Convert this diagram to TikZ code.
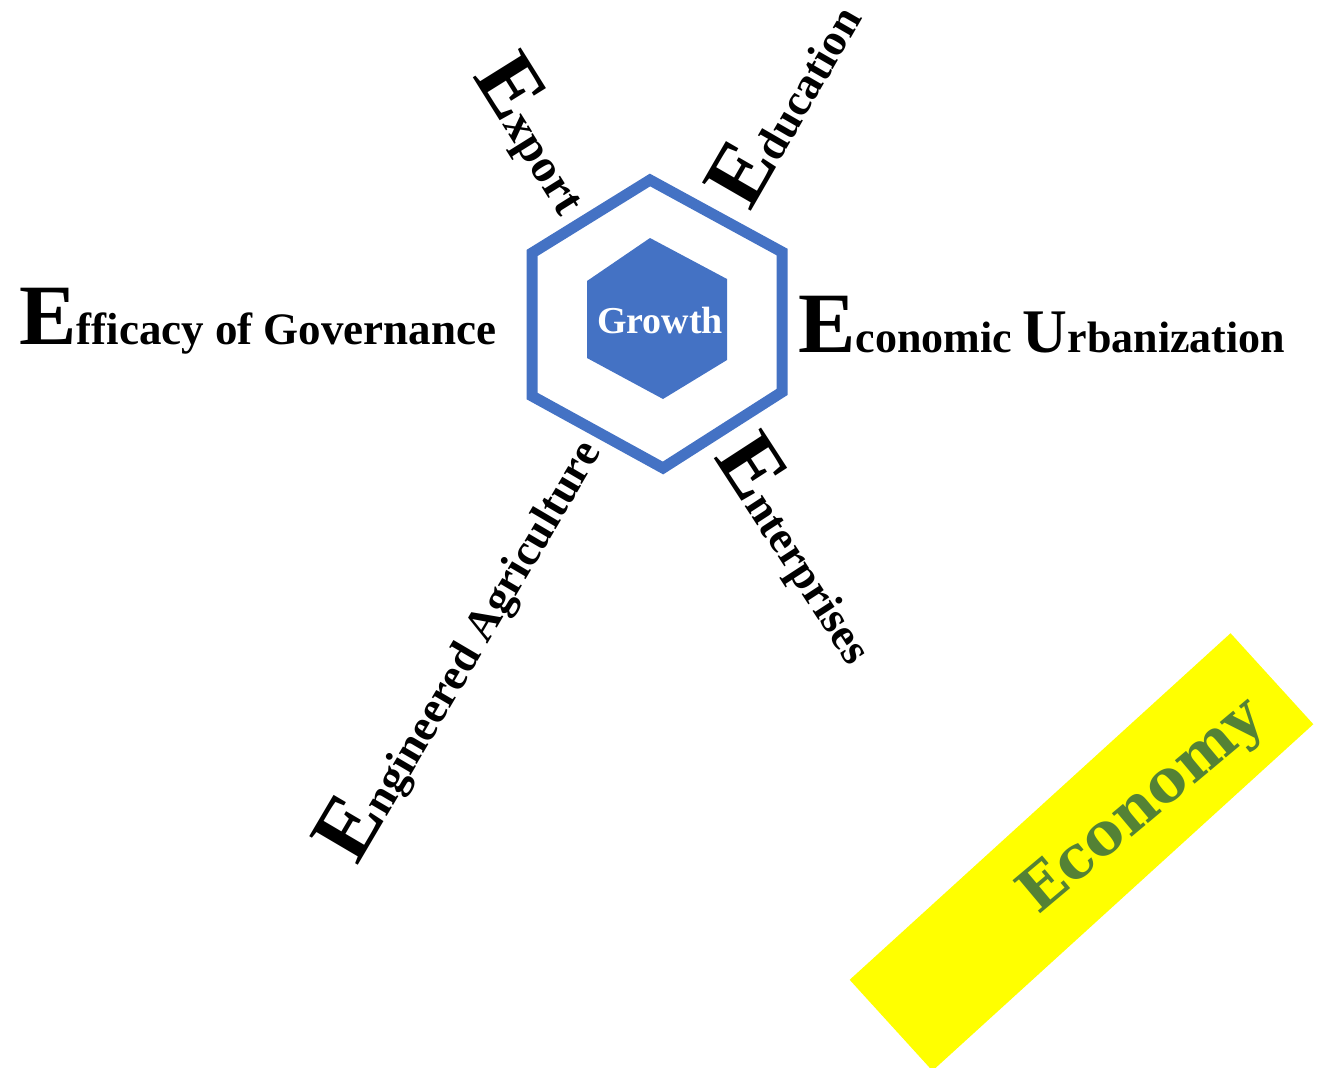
\documentclass[tikz,border=0pt]{standalone}
\usepackage{fontspec}
\setmainfont{Liberation Serif}
\newfontfamily\econfont{DejaVu Serif}
\definecolor{hexblue}{HTML}{4472C4}
\definecolor{econgreen}{HTML}{548235}
\definecolor{econyellow}{HTML}{FFFF00}
\newcommand{\bigE}{{\fontsize{86}{86}\selectfont E}}
\newcommand{\smallsz}{\fontsize{45}{45}\selectfont}
\begin{document}
\begin{tikzpicture}[x=1pt,y=-1pt,
  lbl/.style={anchor=base west,inner sep=0pt,font=\bfseries,text=black}]
\useasboundingbox (0,0) rectangle (1317,1068);
% outer hexagon
\draw[hexblue,line width=11pt,line join=miter]
  (650,180) -- (782,252) -- (782,392) -- (663,468) -- (532,396) -- (532,253) -- cycle;
% inner hexagon
\fill[hexblue] (650,238) -- (727,279) -- (727,360) -- (663,399) -- (587,358) -- (587,281) -- cycle;
\node[inner sep=0pt,text=white,font=\bfseries\fontsize{38}{38}\selectfont] (growth) at (660,320) {Growth};
% labels
\node[lbl] (eff) at (19,344) {\bigE\smallsz fficacy of Governance};
\node[lbl] (eco) at (798,352) {\bigE\fontsize{44}{44}\selectfont conomic {\fontsize{62}{62}\selectfont U}rbanization};
\node[lbl,rotate=-58] (exp) at (472,76) {\bigE\fontsize{47}{47}\selectfont xport};
\node[lbl,rotate=60] (edu) at (750,213) {\bigE\smallsz ducation};
\node[lbl,rotate=-57] (ent) at (713,457) {\bigE\smallsz nterprises};
\node[lbl,rotate=59.5] (agr) at (357,867) {\bigE\smallsz ngineered Agriculture};
% economy banner
\node[fill=econyellow,minimum width=515pt,minimum height=123pt,inner sep=0pt,rotate=42.3] (banner) at (1081.5,852) {};
\node[inner sep=0pt,rotate=40,text=econgreen,font=\econfont\bfseries\fontsize{59}{59}\selectfont] (econ) at (1143,808) {Economy};
\end{tikzpicture}
\end{document}
